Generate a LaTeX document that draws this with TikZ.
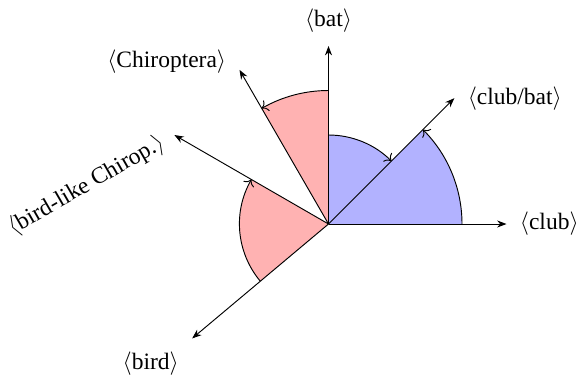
\documentclass[tikz,border=0pt]{standalone}
\usepackage{fontspec}
\setmainfont{Liberation Serif}
\usetikzlibrary{arrows.meta, positioning}
\usepackage{amsmath}

\begin{document}
\begin{tikzpicture}[
  x=1.331cm, y=1.331cm,
  font=\normalsize,
  axis/.style={line width=0.4pt, -{Stealth[length=4pt, width=3pt]}},
  sweep/.style={line width=0.4pt, ->},
  tag/.style={inner sep=5.5pt}
]
\useasboundingbox (-3.691,-1.730) rectangle (2.882,2.517);

\coordinate (O) at (0,0);

% ---- wedges --------------------------------------------------------
\fill[blue!30] (O) -- (0:1.5) arc[start angle=0, end angle=45, radius=1.5] -- cycle;
\fill[blue!30] (O) -- (45:1) arc[start angle=45, end angle=90, radius=1] -- cycle;
\fill[red!30] (O) -- (90:1.5) arc[start angle=90, end angle=120, radius=1.5] -- cycle;
\fill[red!30] (O) -- (150:1) arc[start angle=150, end angle=220, radius=1] -- cycle;

% ---- axes ----------------------------------------------------------
\foreach \a/\n in {0/club, 45/clubbat, 90/bat, 120/chiro, 150/birdlike, 220/bird} {
  \coordinate (e-\n) at (\a:2);
  \draw[axis] (O) -- (e-\n);
}

% ---- sweeps --------------------------------------------------------
\draw[sweep] (0:1.5) arc[start angle=0, end angle=45, radius=1.5];
\draw[sweep] (90:1) arc[start angle=90, end angle=45, radius=1];
\draw[sweep] (90:1.5) arc[start angle=90, end angle=120, radius=1.5];
\draw[sweep] (220:1) arc[start angle=220, end angle=150, radius=1];

% ---- labels --------------------------------------------------------
\node[tag, anchor=west] (t-club) at (e-club) {$\langle$club$\rangle$};
\node[tag, anchor=west] (t-clubbat) at (e-clubbat) {$\langle$club/bat$\rangle$};
\node[tag, anchor=south] (t-bat) at (e-bat) {$\langle$bat$\rangle$};
\node[tag, anchor=east, yshift=3.5pt] (t-chiro) at (e-chiro) {$\langle$Chiroptera$\rangle$};
\node[tag, anchor=east, rotate=30] (t-birdlike) at (e-birdlike) {$\langle$bird-like Chirop.$\rangle$};
\node[tag, anchor=north east] (t-bird) at (e-bird) {$\langle$bird$\rangle$};

\end{tikzpicture}
\end{document}
